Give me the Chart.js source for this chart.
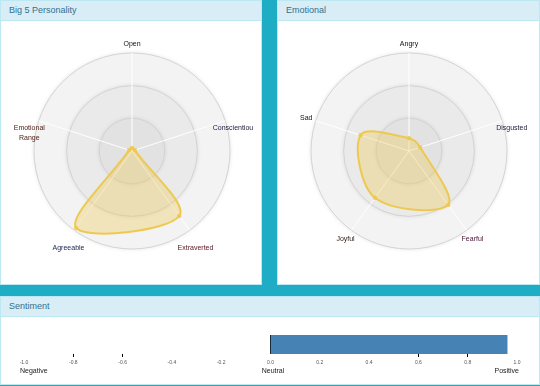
<!DOCTYPE html>
<html><head><meta charset="utf-8">
<script src="https://cdn.jsdelivr.net/npm/chart.js@4"></script>
<style>
html,body{margin:0;padding:0;}
body{width:540px;height:386px;background:#1eadc4;position:relative;overflow:hidden;font-family:"Liberation Sans",Arial,sans-serif;}
.panel{position:absolute;background:#fff;border:1px solid #bce8f1;box-sizing:border-box;}
.head{position:absolute;left:0;top:0;right:0;height:20px;background:#d9edf7;border-bottom:1px solid #bce8f1;color:#31708f;font-size:9px;line-height:19px;padding-left:8px;box-sizing:border-box;}
canvas{position:absolute;}
</style></head>
<body>
<div class="panel" style="left:0;top:0;width:262px;height:285px;"><div class="head">Big 5 Personality</div></div>
<div class="panel" style="left:277px;top:0;width:263px;height:285px;"><div class="head">Emotional</div></div>
<div class="panel" style="left:0;top:296px;width:540px;height:89px;"><div class="head">Sentiment</div></div>
<canvas id="c1" width="252" height="263" style="left:1px;top:21px;"></canvas>
<canvas id="c2" width="261" height="263" style="left:278px;top:21px;"></canvas>
<canvas id="c3" width="540" height="67" style="left:0;top:317px;"></canvas>
<script>
// ---- data ----
const big5Labels = ['Open', 'Conscientious', 'Extraverted', 'Agreeable', ['Emotional', 'Range']];
const big5Values = [0.03, 0.03, 0.82, 0.97, 0.03];
const emoLabels = ['Angry', 'Disgusted', 'Fearful', 'Joyful', 'Sad'];
const emoValues = [0.13, 0.12, 0.68, 0.59, 0.52];
const sentimentCategories = ['Sentiment'];
const sentimentValues = [0.96];
const sentimentEndLabels = ['Negative', 'Neutral', 'Positive'];

const FONT = '"Liberation Sans", Arial, sans-serif';
const GOLD = '#EDC951';

const radarDeco = {
  id: 'radarDeco',
  beforeDraw(chart) {
    const s = chart.scales.r, ctx = chart.ctx;
    const levels = [1, 2/3, 1/3];
    const fills = ['#f3f3f3', '#eaeaea', '#e2e2e2'];
    ctx.save();
    levels.forEach((v, i) => {
      const r = s.getDistanceFromCenterForValue(v);
      ctx.beginPath();
      ctx.arc(s.xCenter, s.yCenter, r, 0, Math.PI * 2);
      ctx.shadowColor = 'rgba(0,0,0,0.12)';
      ctx.shadowBlur = 4;
      ctx.fillStyle = fills[i];
      ctx.fill();
    });
    ctx.restore();
  },
  afterDraw(chart, args, opts) {
    const s = chart.scales.r, ctx = chart.ctx;
    const labels = chart.data.labels;
    ctx.save();
    ctx.font = '7px ' + FONT;
    ctx.textAlign = 'center';
    ctx.textBaseline = 'middle';
    labels.forEach((lab, i) => {
      const p = s.getPointPosition(i, s.drawingArea);
      const a = s.getIndexAngle(i) - Math.PI / 2;
      const x = p.x + 10 * Math.cos(a);
      const y = p.y + opts.dy[i];
      const lines = Array.isArray(lab) ? lab : [lab];
      ctx.fillStyle = opts.colors[i];
      lines.forEach((t, k) => ctx.fillText(t, x, y + k * 10));
    });
    ctx.restore();
  }
};

function radar(id, labels, values, deco) {
  return new Chart(document.getElementById(id), {
    type: 'radar',
    data: { labels: labels, datasets: [{
      data: values,
      backgroundColor: 'rgba(237,201,81,0.35)',
      borderColor: GOLD,
      borderWidth: 2,
      pointRadius: 2.2,
      pointBorderWidth: 0,
      pointBackgroundColor: 'rgba(237,201,81,0.9)',
      tension: 0.35
    }]},
    options: {
      responsive: false, animation: false,
      elements: { line: { capBezierPoints: false } },
      layout: { padding: deco.padding },
      plugins: { legend: { display: false }, tooltip: { enabled: false }, radarDeco: deco },
      scales: { r: {
        min: 0, max: 1,
        ticks: { display: false, count: 4 },
        grid: { circular: true, color: '#d4d4d4', lineWidth: 1 },
        angleLines: { color: '#ffffff', lineWidth: 1 },
        pointLabels: { display: false }
      }}
    },
    plugins: [radarDeco]
  });
}

radar('c1', big5Labels, big5Values, {
  padding: { left: 33, right: 23, top: 32, bottom: 35 },
  dy: [-9, 7.3, 18, 18, 7.3],
  colors: ['#111111', '#1b1b3a', '#5c1420', '#1b2050', '#4a1c10']
});
radar('c2', emoLabels, emoValues, {
  padding: { left: 33, right: 32, top: 32, bottom: 35 },
  dy: [-9, 7.3, 9, 9, -2.7],
  colors: ['#111111', '#1b1b3a', '#4a1438', '#2b1a14', '#111111']
});

const sentimentDeco = {
  id: 'sentimentDeco',
  afterDraw(chart) {
    const x = chart.scales.x, ctx = chart.ctx;
    const y = 54;
    ctx.save();
    ctx.font = '7px ' + FONT;
    ctx.fillStyle = '#1a1a1a';
    ctx.textBaseline = 'middle';
    ctx.textAlign = 'left';
    ctx.fillText(sentimentEndLabels[0], x.getPixelForValue(-1) - 4, y);
    ctx.textAlign = 'center';
    ctx.fillText(sentimentEndLabels[1], x.getPixelForValue(0) + 2.5, y);
    ctx.textAlign = 'right';
    ctx.fillText(sentimentEndLabels[2], x.getPixelForValue(1) + 2, y);
    ctx.restore();
  }
};

new Chart(document.getElementById('c3'), {
  type: 'bar',
  data: { labels: sentimentCategories, datasets: [{
    data: sentimentValues,
    backgroundColor: '#4682b4',
    borderWidth: 0,
    barPercentage: 1,
    categoryPercentage: 1
  }]},
  options: {
    indexAxis: 'y',
    responsive: false, animation: false,
    layout: { padding: { left: 24, right: 23, top: 18, bottom: 18 } },
    plugins: { legend: { display: false }, tooltip: { enabled: false } },
    scales: {
      y: { display: false },
      x: {
        min: -1, max: 1, z: 1,
        afterFit: (s) => { s.height = 12; },
        border: { display: false },
        grid: {
          drawOnChartArea: true,
          tickLength: 3,
          color: (c) => (c.tick && Math.abs(c.tick.value) < 1e-9) ? '#000000' : 'rgba(0,0,0,0)',
          tickColor: (c) => {
            const v = c.tick ? Math.abs(c.tick.value) : 0;
            return (Math.abs(v - 0.6) < 1e-6 || Math.abs(v - 0.8) < 1e-6) ? '#000000' : 'rgba(0,0,0,0)';
          },
          lineWidth: 1
        },
        ticks: {
          stepSize: 0.2,
          padding: 3,
          autoSkip: false,
          maxRotation: 0,
          font: { size: 5, family: FONT },
          color: '#555555',
          callback: (v) => Number(v).toFixed(1)
        }
      }
    }
  },
  plugins: [sentimentDeco]
});
</script>
</body></html>
